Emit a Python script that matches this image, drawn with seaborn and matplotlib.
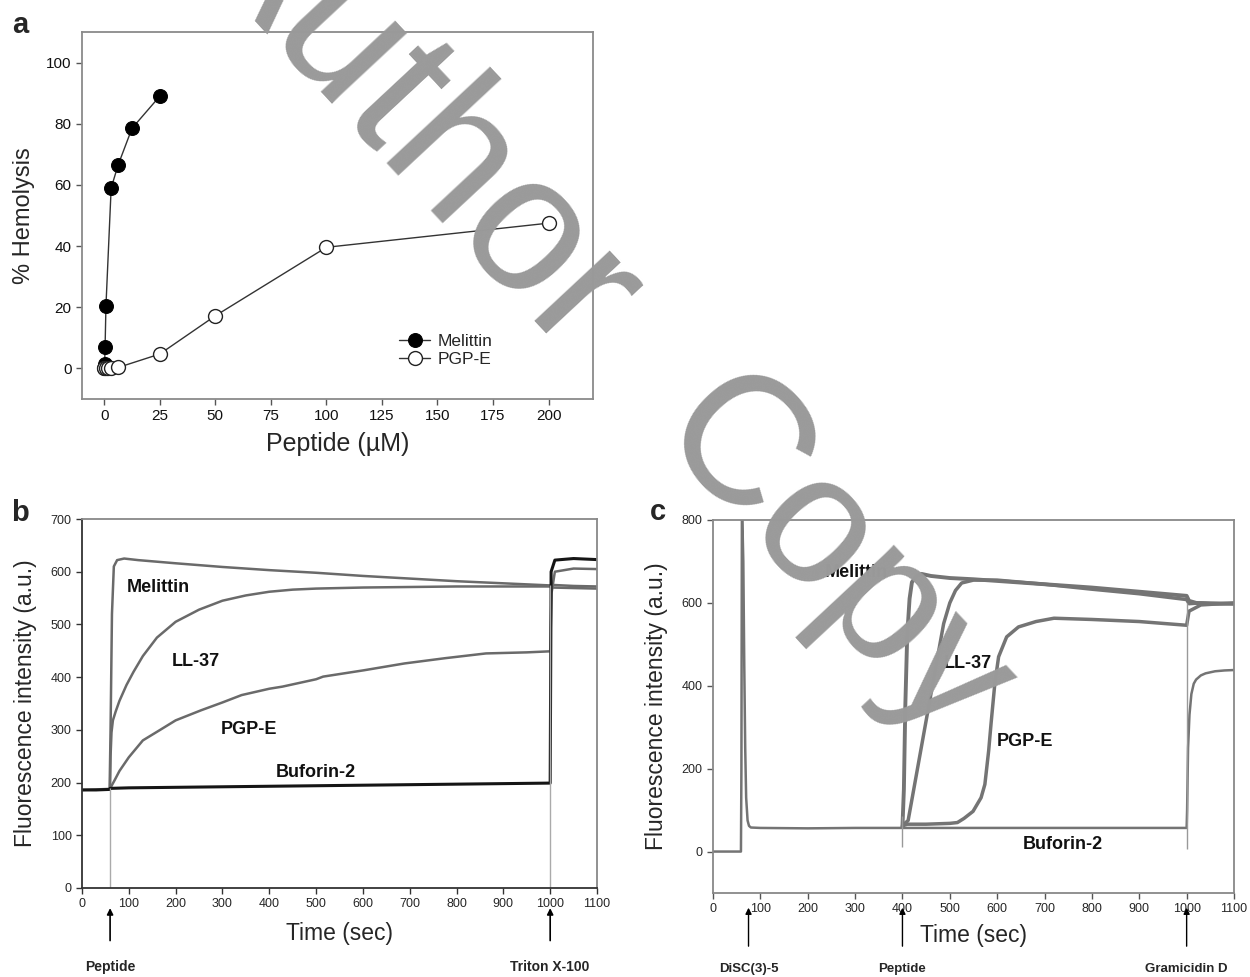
import matplotlib
matplotlib.use("Agg")
import matplotlib.pyplot as plt
import seaborn as sns
import numpy as np
import pandas as pd

sns.set_style("ticks")
plt.rcParams['font.family'] = ['Liberation Sans', 'DejaVu Sans']

# ---------------- Panel a data ----------------
mel_conc = [0.1, 0.2, 0.39, 0.78, 3.125, 6.25, 12.5, 25]
mel_hemo = [0.0, 1.5, 7.0, 20.5, 59.0, 66.5, 78.5, 89.0]
pgp_conc = [0, 0.78, 1.56, 3.125, 6.25, 25, 50, 100, 200]
pgp_hemo = [0.0, 0.0, 0.0, 0.0, 0.3, 4.7, 17.2, 39.6, 47.5]
a_xticks = [0, 25, 50, 75, 100, 125, 150, 175, 200]
a_yticks = [0, 20, 40, 60, 80, 100]

# ---------------- Panel b data ----------------
b_mel_t = [0, 30, 59, 61, 64, 68, 75, 90, 120, 200, 300, 400, 500, 600, 700, 800, 900, 1000, 1003, 1050, 1100]
b_mel_y = [186, 187, 188, 300, 520, 610, 622, 625, 622, 616, 609, 603, 598, 592, 587, 582, 578, 574, 570, 569, 568]
b_ll_t = [60, 61, 63, 66, 72, 80, 95, 110, 130, 160, 200, 250, 300, 350, 400, 450, 500, 600, 700, 800, 900, 1000, 1003, 1050, 1100]
b_ll_y = [188, 250, 295, 318, 335, 355, 385, 410, 440, 475, 505, 528, 545, 555, 562, 566, 568, 570, 571, 572, 572, 572, 575, 573, 572]
b_pgp_t = [60, 62, 70, 80, 100, 130, 167, 200, 254, 300, 341, 400, 428, 500, 515, 602, 689, 776, 863, 950, 1000, 1003, 1010, 1050, 1100]
b_pgp_y = [188, 192, 205, 222, 248, 280, 300, 318, 337, 352, 366, 378, 382, 396, 401, 413, 426, 436, 445, 447, 449, 560, 600, 606, 605]
b_buf_t = [0, 30, 59, 60, 100, 200, 300, 400, 500, 600, 700, 800, 900, 1000, 1002, 1010, 1050, 1100]
b_buf_y = [186, 186, 187, 189, 190, 191, 192, 193, 194, 195, 196, 197, 198, 199, 600, 622, 625, 623]
b_events = [60, 1000]
b_event_top = [190, 575]
b_event_labels = ["Peptide", "Triton X-100"]

# ---------------- Panel c data ----------------
c_buf_t = [0, 30, 59, 60, 61, 62, 64, 66, 68, 70, 73, 76, 80, 100, 200, 300, 400, 500, 600, 700, 800, 900, 1000,
           1001, 1003, 1006, 1010, 1015, 1020, 1030, 1040, 1060, 1080, 1100]
c_buf_y = [0, 0, 0, 200, 800, 800, 700, 450, 250, 130, 75, 62, 58, 57, 56, 57, 57, 57, 57, 57, 57, 57, 57,
           100, 250, 330, 380, 405, 415, 425, 430, 435, 437, 438]
c_mel_t = [400, 403, 406, 410, 415, 420, 430, 440, 460, 500, 550, 600, 700, 800, 900, 1000, 1005, 1020, 1050, 1100]
c_mel_y = [60, 150, 350, 520, 610, 650, 665, 670, 665, 660, 657, 653, 645, 637, 627, 617, 605, 600, 598, 598]
c_ll_t = [400, 405, 412, 430, 450, 470, 487, 500, 512, 525, 550, 600, 700, 800, 900, 1000, 1005, 1030, 1100]
c_ll_y = [60, 68, 75, 189, 316, 443, 550, 600, 630, 648, 655, 655, 645, 633, 622, 608, 598, 600, 598]
c_pgp_t = [400, 410, 450, 500, 516, 530, 549, 566, 574, 582, 587, 595, 603, 620, 645, 682, 720, 800, 900, 1000, 1005, 1030, 1100]
c_pgp_y = [62, 66, 66, 68, 70, 80, 97, 130, 162, 243, 308, 405, 470, 518, 542, 555, 563, 560, 555, 546, 580, 595, 600]
c_events = [400, 1000]
c_event_bottom = [10, 5]
c_event_top = [85, 600]
c_arrow_times = [75, 400, 1000]
c_arrow_labels = ["DiSC(3)-5", "Peptide", "Gramicidin D"]

bc_xticks = list(range(0, 1101, 100))
b_yticks = list(range(0, 701, 100))
c_yticks = [0, 200, 400, 600, 800]

watermark_words = ["Author", "Copy"]

W, H = 1250, 977
fig = plt.figure(figsize=(W / 100, H / 100), dpi=100)

def fax(l, t, r, b):
    return fig.add_axes([l / W, 1 - b / H, (r - l) / W, (b - t) / H])

ax_a = fax(82, 32, 593, 399)
ax_b = fax(82, 519, 597, 888)
ax_c = fax(713, 520, 1234, 893)

# ---------------- Panel a ----------------
sns.lineplot(x=mel_conc, y=mel_hemo, ax=ax_a, estimator=None, sort=False, color='#333333', lw=1.0,
             marker='o', markersize=10, markerfacecolor='black', markeredgecolor='black', label='Melittin')
sns.lineplot(x=pgp_conc, y=pgp_hemo, ax=ax_a, estimator=None, sort=False, color='#333333', lw=1.0,
             marker='o', markersize=10, markerfacecolor='white', markeredgecolor='#222222', markeredgewidth=1.0,
             label='PGP-E')
ax_a.set_xlim(-10, 220)
ax_a.set_ylim(-10, 110)
ax_a.set_xticks(a_xticks)
ax_a.set_yticks(a_yticks)
ax_a.tick_params(labelsize=11, length=4, width=1, color='#555555', labelcolor='#111111')
ax_a.set_xlabel("Peptide (µM)", fontsize=18, labelpad=6)
ax_a.set_ylabel("% Hemolysis", fontsize=17, labelpad=8)
for s in ax_a.spines.values():
    s.set_color('#8a8a8a')
    s.set_linewidth(1.3)
ax_a.legend(loc='upper left', bbox_to_anchor=(0.59, 0.22), frameon=False, fontsize=12.5,
            handlelength=1.8, handletextpad=0.4, labelspacing=0.15)

# ---------------- Panel b ----------------
gray_b = '#6a6a6a'
for t, y, c, lw in [(b_mel_t, b_mel_y, gray_b, 1.8), (b_ll_t, b_ll_y, gray_b, 1.8),
                    (b_pgp_t, b_pgp_y, gray_b, 1.8), (b_buf_t, b_buf_y, '#151515', 2.2)]:
    sns.lineplot(x=t, y=y, ax=ax_b, estimator=None, sort=False, color=c, lw=lw)
ax_b.vlines(b_events, 0, b_event_top, color='#aaaaaa', lw=1.0)
ax_b.set_xlim(0, 1100)
ax_b.set_ylim(0, 700)
ax_b.set_xticks(bc_xticks)
ax_b.set_yticks(b_yticks)
ax_b.tick_params(labelsize=9, length=4, width=1, color='#333333')
ax_b.set_xlabel("Time (sec)", fontsize=16.5, labelpad=8)
ax_b.set_ylabel("Fluorescence intensity (a.u.)", fontsize=16.5, labelpad=10)
for k, s in ax_b.spines.items():
    s.set_color('#333333' if k in ('left', 'bottom') else '#888888')
    s.set_linewidth(1.3)
for txt, x, y in [("Melittin", 162, 571), ("LL-37", 244, 429), ("PGP-E", 357, 300), ("Buforin-2", 500, 220)]:
    ax_b.text(x, y, txt, fontsize=13, fontweight='bold', ha='center', va='center', color='#111111')
for t, lab in zip(b_events, b_event_labels):
    ax_b.annotate("", xy=(t, -0.047), xycoords=('data', 'axes fraction'), xytext=(t, -0.15),
                  textcoords=('data', 'axes fraction'),
                  arrowprops=dict(arrowstyle='-|>', color='black', lw=1.2, mutation_scale=9), annotation_clip=False)
    ax_b.text(t, -0.215, lab, transform=ax_b.get_xaxis_transform(), ha='center', va='center',
              fontsize=10, fontweight='bold')

# ---------------- Panel c ----------------
gray_c = '#747474'
for t, y, lw in [(c_buf_t, c_buf_y, 1.8), (c_mel_t, c_mel_y, 2.8), (c_ll_t, c_ll_y, 2.5), (c_pgp_t, c_pgp_y, 2.5)]:
    sns.lineplot(x=t, y=y, ax=ax_c, estimator=None, sort=False, color=gray_c, lw=lw)
ax_c.vlines(c_events, c_event_bottom, c_event_top, color='#999999', lw=1.0)
ax_c.set_xlim(0, 1100)
ax_c.set_ylim(-100, 800)
ax_c.set_xticks(bc_xticks)
ax_c.set_yticks(c_yticks)
ax_c.tick_params(labelsize=9, length=4, width=1, color='#555555')
ax_c.set_xlabel("Time (sec)", fontsize=16.5, labelpad=6)
ax_c.set_ylabel("Fluorescence intensity (a.u.)", fontsize=16.5, labelpad=10)
for s in ax_c.spines.values():
    s.set_color('#888888')
    s.set_linewidth(1.3)
for txt, x, y in [("Melittin", 302, 673), ("LL-37", 537, 454), ("PGP-E", 658, 266), ("Buforin-2", 738, 17)]:
    ax_c.text(x, y, txt, fontsize=13, fontweight='bold', ha='center', va='center', color='#111111')
for t, lab in zip(c_arrow_times, c_arrow_labels):
    ax_c.annotate("", xy=(t, -0.032), xycoords=('data', 'axes fraction'), xytext=(t, -0.15),
                  textcoords=('data', 'axes fraction'),
                  arrowprops=dict(arrowstyle='-|>', color='black', lw=1.0, mutation_scale=9), annotation_clip=False)
    ax_c.text(t, -0.205, lab, transform=ax_c.get_xaxis_transform(), ha='center', va='center',
              fontsize=9.5, fontweight='bold')

# panel letters
fig.text(20 / W, 1 - 25 / H, "a", fontsize=21, fontweight='bold', ha='center', va='center')
fig.text(20 / W, 1 - 513 / H, "b", fontsize=21, fontweight='bold', ha='center', va='center')
fig.text(658 / W, 1 - 512 / H, "c", fontsize=21, fontweight='bold', ha='center', va='center')

# watermark (two words, rotated)
for word, (px, py), fs in zip(watermark_words, [(410, 115), (832, 562)], [140, 132]):
    fig.text(px / W, 1 - py / H, word, fontsize=fs, color='#9a9a9a', rotation=-47,
             ha='center', va='center', rotation_mode='anchor', zorder=100)

fig.savefig("out.png", dpi=100)
